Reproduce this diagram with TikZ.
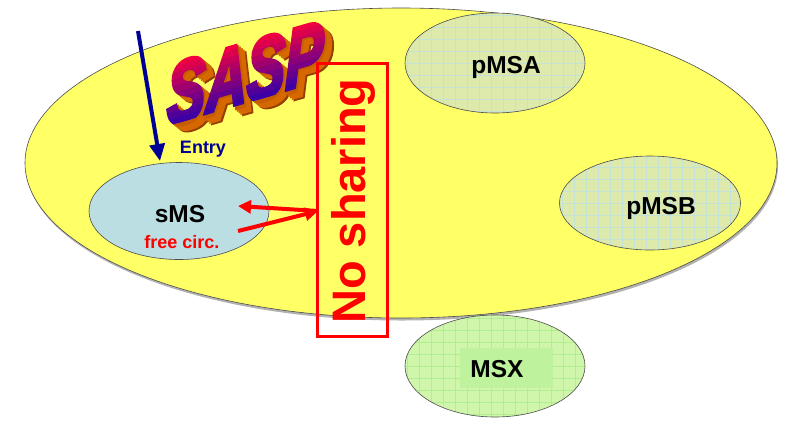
\documentclass[tikz,border=0pt]{standalone}
\usepackage{fontspec}
\setmainfont{Liberation Sans}
\newfontfamily\wafont[FakeBold=5]{Liberation Sans}
\usetikzlibrary{shapes.geometric,arrows.meta}
\definecolor{yel}{RGB}{255,255,102}
\definecolor{pfill}{RGB}{221,234,172}
\definecolor{pgrid}{RGB}{196,226,214}
\definecolor{xfill}{RGB}{208,246,172}
\definecolor{xgrid}{RGB}{176,238,146}
\definecolor{xin}{RGB}{190,242,156}
\definecolor{sfill}{RGB}{186,222,226}
\definecolor{navy}{RGB}{0,0,150}
\definecolor{ored}{RGB}{255,0,0}
\definecolor{extr}{RGB}{214,104,0}
\definecolor{extrd}{RGB}{150,62,0}
\tikzset{
  ell/.style={ellipse, draw=black!70, line width=0.6pt, inner sep=0pt},
  gridlines/.style={path picture={
     \foreach \i in {-100,-88,...,100}{
       \draw[#1, line width=0.5pt] ([xshift=\i pt]path picture bounding box.north) -- ([xshift=\i pt]path picture bounding box.south);}
     \foreach \j in {-60,-48,...,60}{
       \draw[#1, line width=0.5pt] ([yshift=\j pt]path picture bounding box.west) -- ([yshift=\j pt]path picture bounding box.east);}
  }},
  lbl/.style={font=\bfseries\fontsize{24.5}{26}\selectfont, text=black, inner sep=0pt},
  redarrow/.style={draw=ored, line width=4pt, -{Triangle[length=13pt,width=13pt]}},
  wordart/.style={transform shape, xscale=0.66, anchor=base west, inner sep=0pt,
     font=\wafont\bfseries\itshape\fontsize{87}{87}\selectfont},
}
\begin{document}
\begin{tikzpicture}[x=1pt,y=-1pt]
\useasboundingbox (0,0) rectangle (792,432);
\fill[white] (0,0) rectangle (792,432);

% big yellow ellipse with slight shadow
\fill[black!30] (402,165.5) ellipse [x radius=376, y radius=155];
\node[ell, fill=yel, minimum width=752pt, minimum height=310pt] (big) at (401,163) {};

% pMSA, pMSB
\node[ell, fill=pfill, gridlines=pgrid, minimum width=180pt, minimum height=100pt] (pmsa) at (495,63) {};
\node[lbl] (pmsat) at (506,67) {pMSA};
\node[ell, fill=pfill, gridlines=pgrid, minimum width=181pt, minimum height=94pt] (pmsb) at (650,203) {};
\node[lbl] (pmsbt) at (661,208) {pMSB};

% MSX
\node[ell, fill=xfill, gridlines=xgrid, minimum width=180pt, minimum height=102pt] (msx) at (495,366) {};
\node[fill=xin, minimum width=93pt, minimum height=40pt, inner sep=0pt] (msxin) at (506,368) {};
\node[lbl] (msxt) at (497,369) {MSX};

% sMS
\node[ell, fill=sfill, minimum width=180pt, minimum height=97pt] (sms) at (179,211) {};
\node[lbl] (smst) at (180,214) {sMS};
\node[font=\bfseries\fontsize{18}{20}\selectfont, text=ored, inner sep=0pt] (free) at (182,242) {free circ.};

% Entry arrow
\coordinate (entrystart) at (138,31);
\coordinate (entryend) at (160,161);
\draw[navy, line width=4pt, -{Triangle[length=17pt,width=15pt]}] (entrystart) -- (entryend);
\node[font=\bfseries\fontsize{18}{20}\selectfont, text=navy, inner sep=0pt] (entry) at (203,149) {Entry};

% SASP word art (extrusion + gradient face)
\begin{scope}[shift={(167,126)}, yslant=0.29]
  \foreach \d/\c in {10/extrd,8/extr,6/extr,4/extr,2/extr!75!extrd}{
    \node[wordart, text=\c] at (\d*0.9pt, -\d*1.0pt) {SASP};
  }
  \foreach \k in {0,...,9}{
    \begin{scope}
      \clip (-20pt,{\k*6.4pt-0.2pt}) rectangle (220pt,{(\k+1)*6.4pt});
      \ifnum\k=9 \clip (-20pt,57pt) rectangle (220pt,90pt);\fi
      \node[wordart, text={rgb,255:red,\the\numexpr 60+\k*20\relax;green,0;blue,\the\numexpr 165-\k*11\relax}] (sasp\k) at (0pt,0pt) {SASP};
    \end{scope}
  }
\end{scope}

% No sharing box
\node[draw=ored, line width=3pt, minimum width=70pt, minimum height=273pt, inner sep=0pt] (nos) at (352,199.5) {};
\node[rotate=90, text=ored, font=\bfseries\fontsize{47}{47}\selectfont, inner sep=0pt] (nost) at (353,201) {No sharing};

% red arrows
\coordinate (junc) at (318,211);
\coordinate (smsr) at (238,206);
\coordinate (smsl) at (238,231);
\draw[redarrow] (junc) -- (smsr);
\draw[redarrow] (smsl) -- (junc);
\end{tikzpicture}
\end{document}
